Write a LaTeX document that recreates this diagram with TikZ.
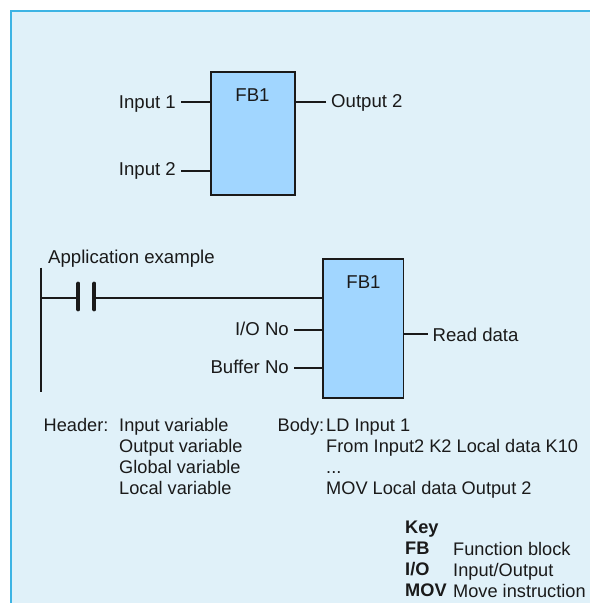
\documentclass[tikz,border=0pt]{standalone}
\usepackage{fontspec}
\setmainfont{Liberation Sans}
\usepackage{tikz}
\definecolor{panelblue}{HTML}{E0F1F9}
\definecolor{panelline}{HTML}{3DB4E4}
\definecolor{blockblue}{HTML}{A1D6FF}
\definecolor{inkblack}{HTML}{1A1A1A}
\tikzset{
  fblock/.style={draw=inkblack,line width=1.5pt,fill=blockblue,anchor=north west,inner sep=0pt,outer sep=0pt},
  tag/.style={text=inkblack,font=\fontsize{18.6}{21}\selectfont,inner ysep=0pt,inner xsep=5pt,text height=12pt,text depth=2pt},
  txt/.style={text=inkblack,font=\fontsize{18.2}{21}\selectfont,inner sep=0pt,align=left,anchor=north west},
  wire/.style={draw=inkblack,line width=1.4pt},
  contact/.style={draw=inkblack,line width=3.8pt,line cap=round}
}

\begin{document}
\begin{tikzpicture}[x=1pt,y=-1pt]
      \useasboundingbox (0,0) rectangle (590,603);
      \fill[panelblue] (11,11) rectangle (590,603);
      \draw[panelline,line width=1.2pt] (11,603)--(11,11)--(590,11);
      % upper block
      \node[fblock,minimum width=84pt,minimum height=123pt] (fbtop) at (211,72) {};
      \node[tag] (fbtoplbl) at (252.5,96) {FB1};
      \node[tag,anchor=east,text height=13pt,text depth=1pt] (inone) at (181,102) {Input 1};
      \node[tag,anchor=east,text height=11pt,text depth=3pt] (intwo) at (181,171) {Input 2};
      \node[tag,anchor=west] (outtwo) at (326,102) {Output 2};
      \draw[wire] (inone.east)--(inone.east -| fbtop.west);
      \draw[wire] (intwo.east)--(intwo.east -| fbtop.west);
      \draw[wire] (outtwo.west)--(outtwo.west -| fbtop.east);
      % ladder part
      \node[tag,anchor=west,inner xsep=0pt] (appl) at (48,258) {Application example};
      \coordinate (railtop) at (41,267.5);
      \coordinate (railbot) at (41,391.5);
      \coordinate (contl) at (78.3,298);
      \coordinate (contr) at (94.3,298);
      \node[fblock,minimum width=80.5pt,minimum height=139pt] (fbbot) at (323.2,259) {};
      \node[tag] (fbbotlbl) at (363.5,283) {FB1};
      \node[tag,anchor=east] (iono) at (294,330) {I/O No};
      \node[tag,anchor=east] (bufno) at (294,368) {Buffer No};
      \node[tag,anchor=west,text height=14pt,text depth=0pt] (rdata) at (427.5,334) {Read data};
      \draw[wire] (railtop)--(railbot);
      \draw[wire] (railtop |- contl)--(contl);
      \draw[wire] (contr)--(contr -| fbbot.west);
      \draw[contact] (78.3,283.5)--(78.3,309.5);
      \draw[contact] (94.3,283.5)--(94.3,309.5);
      \draw[wire] (iono.east)--(iono.east -| fbbot.west);
      \draw[wire] (bufno.east)--(bufno.east -| fbbot.west);
      \draw[wire] (rdata.west)--(rdata.west -| fbbot.east);
      % text below
      \node[txt] (header) at (43.5,418.5) {Header:};
      \node[txt] (hvars) at (119,418.5) {Input variable\\Output variable\\Global variable\\Local variable};
      \node[txt] (body) at (277.5,418.5) {Body:};
      \node[txt] (bcode) at (326,418.5) {LD Input 1\\From Input2 K2 Local data K10\\...\\MOV Local data Output 2};
      \node[txt,font=\fontsize{18.2}{21}\selectfont\bfseries] (keyhead) at (405,521) {Key\\FB\\I/O\\MOV};
      \node[txt] (keytxt) at (453,542) {Function block\\Input/Output\\Move instruction};
    \end{tikzpicture}
\end{document}
